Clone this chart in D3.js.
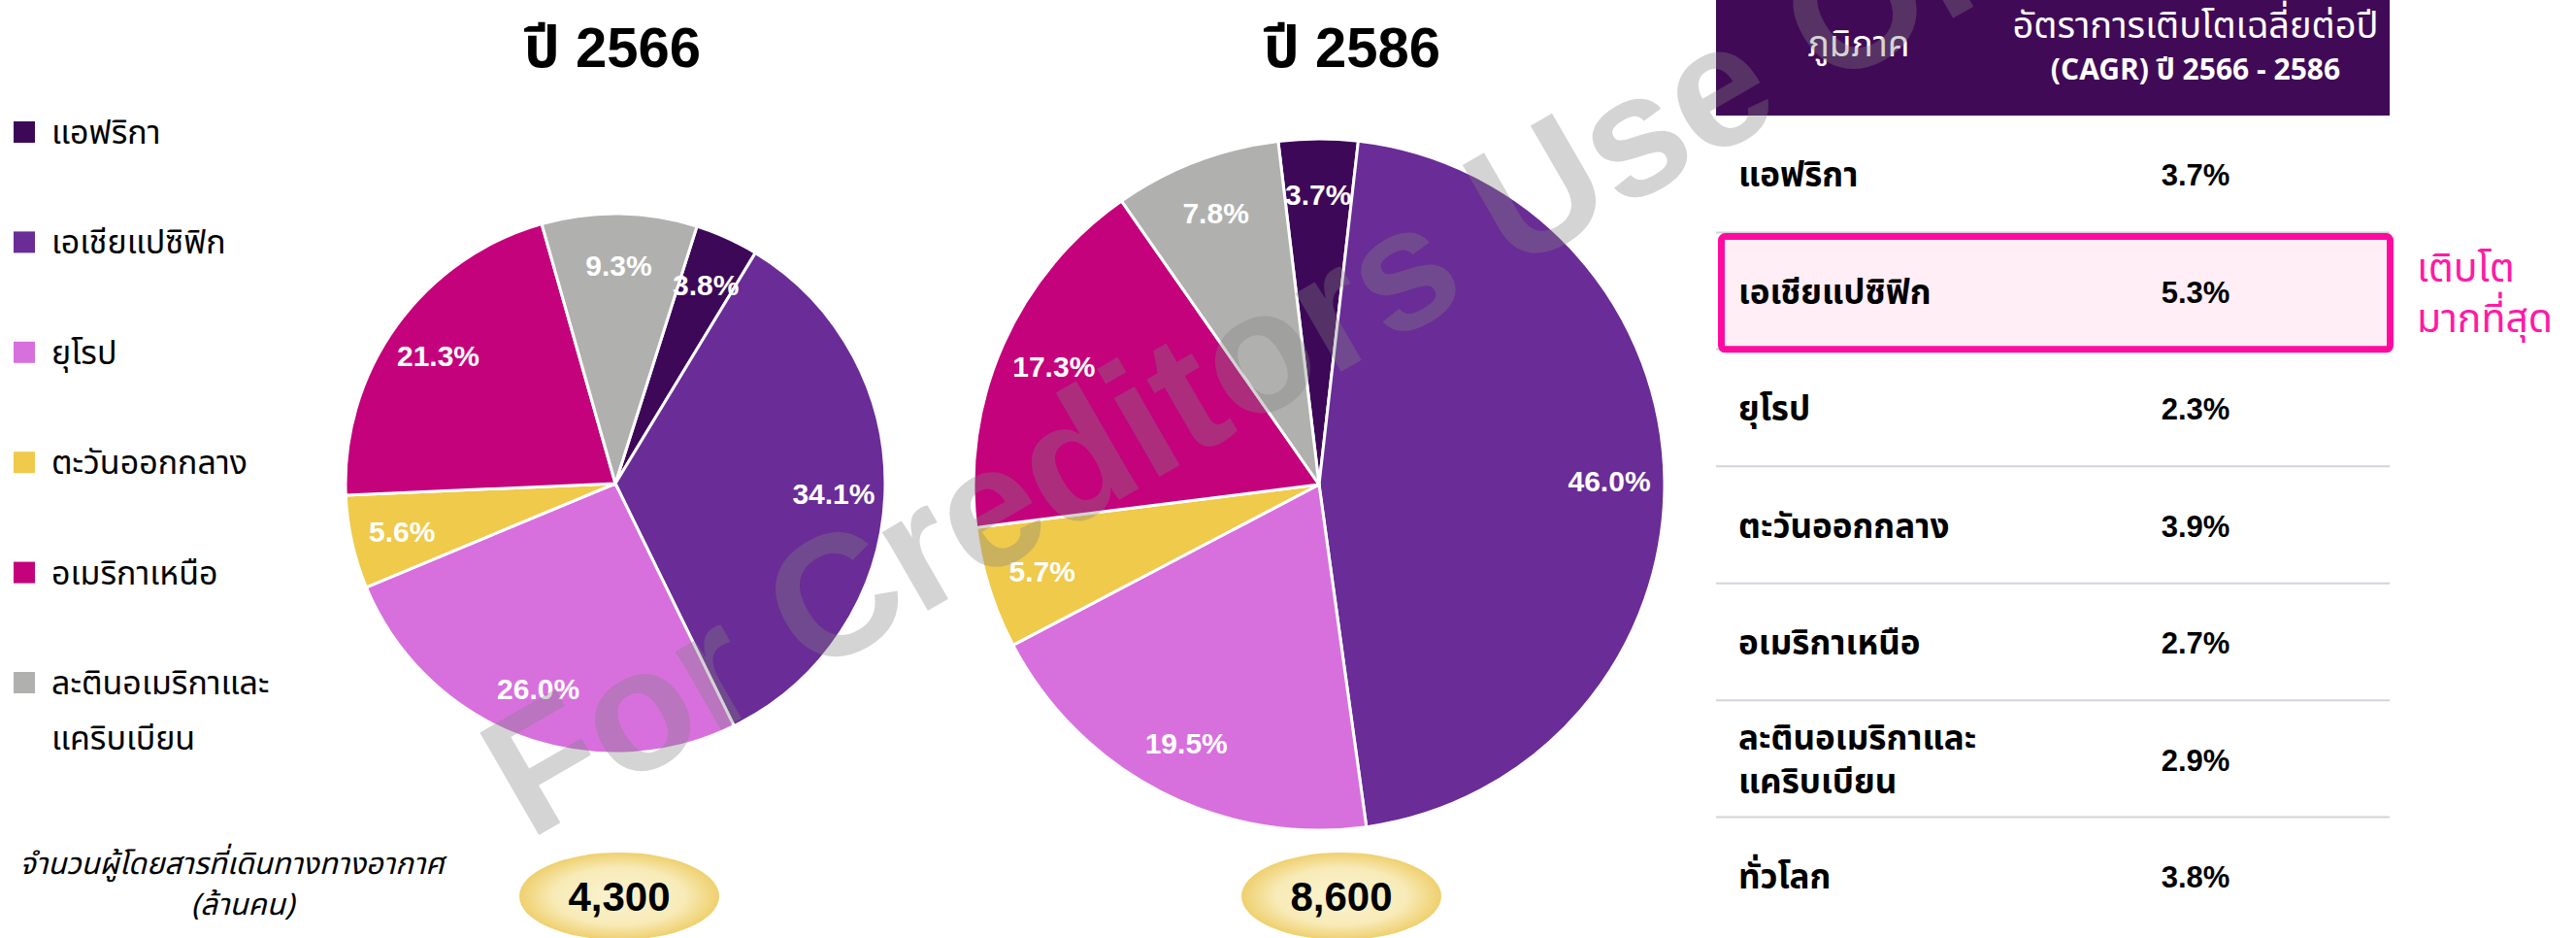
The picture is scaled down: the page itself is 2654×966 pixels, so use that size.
<!DOCTYPE html>
<html>
<head>
<meta charset="utf-8">
<script src="https://cdn.jsdelivr.net/npm/d3@7"></script>
<style>
  html, body { margin: 0; padding: 0; background: #fff; }
  svg text { font-family: "Liberation Sans", Arial, "Noto Sans Thai", "Noto Sans", sans-serif; }
  .thai { font-family: "Noto Sans Thai", "Noto Sans Thai Looped", "Noto Sans", "Liberation Sans", sans-serif; }
</style>
</head>
<body>
<svg id="chart" width="2654" height="966"></svg>
<script>
// regions, in legend / pie order
const regions = ['แอฟริกา', 'เอเชียแปซิฟิก', 'ยุโรป', 'ตะวันออกกลาง', 'อเมริกาเหนือ', 'ละตินอเมริกาและแคริบเบียน'];
const regionLines = [['แอฟริกา'], ['เอเชียแปซิฟิก'], ['ยุโรป'], ['ตะวันออกกลาง'], ['อเมริกาเหนือ'], ['ละตินอเมริกาและ', 'แคริบเบียน']];
const regionColors = ['#3d0858', '#6a2c96', '#d770dd', '#efca4b', '#c4027c', '#b0b1af'];

// share of passengers by region (%)
const share2566 = [3.8, 34.1, 26.0, 5.6, 21.3, 9.3];
const share2586 = [3.7, 46.0, 19.5, 5.7, 17.3, 7.8];
const pieYears = ['ปี 2566', 'ปี 2586'];
const passengers = [4300, 8600];   // million people

// CAGR table
const cagrHeader = ['ภูมิภาค', 'อัตราการเติบโตเฉลี่ยต่อปี', '(CAGR) ปี 2566 - 2586'];
const cagrRows = [['แอฟริกา'], ['เอเชียแปซิฟิก'], ['ยุโรป'], ['ตะวันออกกลาง'], ['อเมริกาเหนือ'], ['ละตินอเมริกาและ', 'แคริบเบียน'], ['ทั่วโลก']];
const cagrValues = [3.7, 5.3, 2.3, 3.9, 2.7, 2.9, 3.8];
const highlightRow = 1;

const svg = d3.select('#chart');
const deg = Math.PI / 180;

const defs = svg.append('defs');
const grad = defs.append('radialGradient').attr('id', 'bubble');
grad.append('stop').attr('offset', '0%').attr('stop-color', '#fbf3d2');
grad.append('stop').attr('offset', '65%').attr('stop-color', '#f8ebb8');
grad.append('stop').attr('offset', '100%').attr('stop-color', '#efd06e');

// pies
const pies = [
    { data: share2566, cx: 634, cy: 498, r: 278, start: 17.6, labelR: 0.81, titleX: 631, bubbleX: 638 },
    { data: share2586, cx: 1359, cy: 499, r: 356, start: -6.8, labelR: 0.84, titleX: 1393, bubbleX: 1382 }
];

pies.forEach((p, k) => {
    const pie = d3.pie().sort(null).value(d => d)
        .startAngle(p.start * deg).endAngle((p.start + 360) * deg);
    const arcs = pie(p.data);
    const arc = d3.arc().innerRadius(0).outerRadius(p.r);
    const labelArc = d3.arc().innerRadius(p.r * p.labelR).outerRadius(p.r * p.labelR);

    const g = svg.append('g').attr('transform', `translate(${p.cx},${p.cy})`);
    g.selectAll('path')
        .data(arcs)
        .enter()
        .append('path')
        .attr('d', arc)
        .attr('fill', (d, i) => regionColors[i])
        .attr('stroke', '#fff')
        .attr('stroke-width', 3)
        .attr('stroke-linejoin', 'round');

    g.selectAll('text')
        .data(arcs)
        .enter()
        .append('text')
        .attr('transform', d => `translate(${labelArc.centroid(d)})`)
        .attr('text-anchor', 'middle')
        .attr('dy', '0.36em')
        .style('font-size', '30px')
        .style('font-weight', 'bold')
        .style('fill', '#fff')
        .text(d => d.data.toFixed(1) + '%');

    // year title
    svg.append('text')
        .attr('x', p.titleX)
        .attr('y', 69)
        .attr('text-anchor', 'middle')
        .style('font-size', '58px')
        .style('font-weight', 'bold')
        .text(pieYears[k]);

    // passenger bubble
    svg.append('ellipse')
        .attr('cx', p.bubbleX)
        .attr('cy', 923)
        .attr('rx', 103)
        .attr('ry', 45)
        .attr('fill', 'url(#bubble)');
    svg.append('text')
        .attr('x', p.bubbleX)
        .attr('y', 923)
        .attr('dy', '0.36em')
        .attr('text-anchor', 'middle')
        .style('font-size', '42px')
        .style('font-weight', 'bold')
        .text(d3.format(',')(passengers[k]));
});

// legend
const legendY = d3.scalePoint().domain(d3.range(regions.length)).range([136, 703]);
const legend = svg.append('g');
regionLines.forEach((lines, i) => {
    const y = legendY(i);
    legend.append('rect')
        .attr('x', 14).attr('y', y - 11)
        .attr('width', 22).attr('height', 22)
        .attr('fill', regionColors[i]);
    lines.forEach((t, j) => {
        legend.append('text')
            .attr('class', 'thai')
            .attr('x', 53)
            .attr('y', y + j * 57)
            .attr('dy', '0.35em')
            .style('font-size', '34px')
            .text(t);
    });
});

// passenger caption
svg.append('text')
    .attr('class', 'thai')
    .attr('x', 239).attr('y', 889).attr('dy', '0.35em')
    .attr('text-anchor', 'middle')
    .style('font-size', '31px').style('font-style', 'italic')
    .text('จำนวนผู้โดยสารที่เดินทางทางอากาศ');
svg.append('text')
    .attr('class', 'thai')
    .attr('x', 250).attr('y', 931).attr('dy', '0.35em')
    .attr('text-anchor', 'middle')
    .style('font-size', '31px').style('font-style', 'italic')
    .text('(ล้านคน)');

// CAGR table
const tableX0 = 1768, tableX1 = 2462;
const rowY = d3.scaleLinear().domain([0, cagrRows.length]).range([119, 962]);
const table = svg.append('g');

table.append('rect')
    .attr('x', tableX0).attr('y', 0)
    .attr('width', tableX1 - tableX0).attr('height', 119)
    .attr('fill', '#400a57');
table.append('text')
    .attr('class', 'thai')
    .attr('x', 1915).attr('y', 45).attr('dy', '0.35em')
    .attr('text-anchor', 'middle')
    .style('font-size', '37px').style('fill', '#fff')
    .text(cagrHeader[0]);
table.append('text')
    .attr('class', 'thai')
    .attr('x', 2262).attr('y', 26).attr('dy', '0.35em')
    .attr('text-anchor', 'middle')
    .style('font-size', '38px').style('fill', '#fff')
    .text(cagrHeader[1]);
table.append('text')
    .attr('class', 'thai')
    .attr('x', 2262).attr('y', 71).attr('dy', '0.35em')
    .attr('text-anchor', 'middle')
    .style('font-size', '30px').style('font-weight', 'bold').style('fill', '#fff')
    .text(cagrHeader[2]);

// row separators
table.selectAll('line.sep')
    .data(d3.range(1, cagrRows.length))
    .enter()
    .append('line')
    .attr('class', 'sep')
    .attr('x1', tableX0).attr('x2', tableX1)
    .attr('y1', d => rowY(d)).attr('y2', d => rowY(d))
    .attr('stroke', '#d3d3da')
    .attr('stroke-width', 2);

// highlight box
table.append('rect')
    .attr('x', 1773.5).attr('y', rowY(highlightRow) + 4)
    .attr('width', 689).attr('height', rowY(highlightRow + 1) - rowY(highlightRow) - 4)
    .attr('rx', 4)
    .attr('fill', '#ffeef6')
    .attr('stroke', '#ff0aa0')
    .attr('stroke-width', 7);

cagrRows.forEach((lines, i) => {
    const yc = (rowY(i) + rowY(i + 1)) / 2 + 1;
    lines.forEach((t, j) => {
        table.append('text')
            .attr('class', 'thai')
            .attr('x', 1791)
            .attr('y', yc + (j - (lines.length - 1) / 2) * 45)
            .attr('dy', '0.35em')
            .style('font-size', '35px')
            .style('font-weight', 'bold')
            .text(t);
    });
    table.append('text')
        .attr('x', 2262)
        .attr('y', yc)
        .attr('dy', '0.36em')
        .attr('text-anchor', 'middle')
        .style('font-size', '31px')
        .style('font-weight', 'bold')
        .text(cagrValues[i].toFixed(1) + '%');
});

// note beside highlighted row
svg.append('text')
    .attr('class', 'thai')
    .attr('x', 2490).attr('y', 276).attr('dy', '0.35em')
    .style('font-size', '41px').style('fill', '#ff1aa6')
    .text('เติบโต');
svg.append('text')
    .attr('class', 'thai')
    .attr('x', 2490).attr('y', 328).attr('dy', '0.35em')
    .style('font-size', '41px').style('fill', '#ff1aa6')
    .text('มากที่สุด');

// watermark on top of everything
svg.append('text')
    .attr('transform', 'translate(545,866) rotate(-30)')
    .style('font-size', '177px')
    .style('font-weight', 'bold')
    .style('fill', '#808080')
    .style('fill-opacity', 0.34)
    .text('For Creditors Use Only');
</script>
</body>
</html>
